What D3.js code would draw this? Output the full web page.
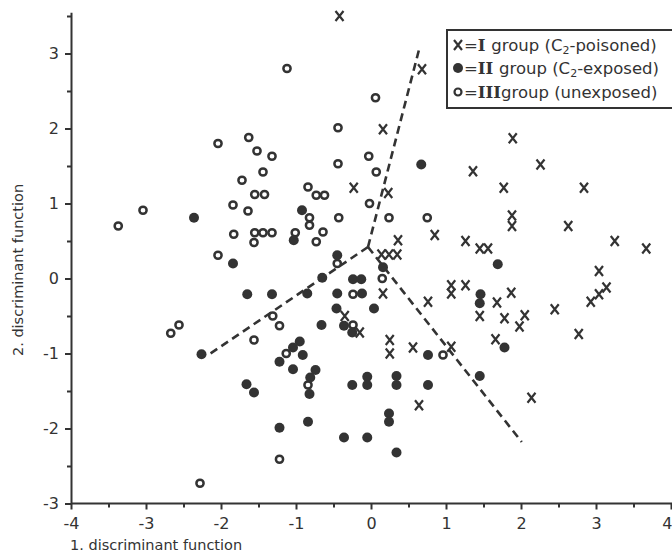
<!DOCTYPE html>
<html lang="en">
<head>
<meta charset="UTF-8">
<script src="https://d3js.org/d3.v7.min.js"></script>
<title>Discriminant functions</title>
<style>
  body { margin: 0; background: #fff; }
  svg text { font-family: "DejaVu Sans", sans-serif; fill: #333; }
  .axis path, .axis line { stroke: #333; stroke-width: 2; }
</style>
</head>
<body>
<div id="chart"></div>
<script>

// I group (x), C2-poisoned: [1. function, 2. function]
var groupI = [
  [-0.42, 3.50], [0.68, 2.79], [0.16, 1.99], [1.89, 1.87], [2.26, 1.52], [1.36, 1.43],
  [-0.23, 1.21], [0.23, 1.14], [1.77, 1.21], [2.84, 1.21], [1.88, 0.84], [1.88, 0.70],
  [2.63, 0.70], [0.85, 0.58], [0.36, 0.51], [1.26, 0.50], [1.45, 0.40], [1.56, 0.40],
  [3.25, 0.50], [3.67, 0.40], [0.14, 0.32], [0.24, 0.32], [0.35, 0.32], [3.04, 0.10],
  [1.07, -0.09], [1.07, -0.20], [1.26, -0.09], [0.16, -0.20], [1.87, -0.19], [0.76, -0.31],
  [1.68, -0.32], [3.14, -0.12], [3.04, -0.21], [2.93, -0.31], [2.45, -0.41], [1.45, -0.50],
  [1.78, -0.53], [2.05, -0.49], [1.98, -0.64], [2.77, -0.74], [-0.35, -0.50], [-0.15, -0.72],
  [0.25, -0.82], [0.25, -1.00], [0.56, -0.92], [1.07, -0.91], [1.66, -0.81], [0.64, -1.69],
  [2.14, -1.59]
];

// II group (filled), C2-exposed
var groupII = [
  [0.67, 1.52], [-2.36, 0.81], [-0.92, 0.91], [-1.84, 0.20], [-1.03, 0.51], [-0.45, 0.31],
  [0.16, 0.15], [-1.65, -0.21], [-1.32, -0.21], [-0.65, 0.01], [-0.24, -0.01], [-0.13, -0.01],
  [-0.85, -0.20], [-0.45, -0.20], [-0.12, -0.20], [1.69, 0.19], [1.46, -0.21], [1.45, -0.33],
  [-0.46, -0.40], [0.04, -0.40], [-0.66, -0.62], [-0.36, -0.63], [-0.25, -0.72], [1.78, -0.92],
  [-2.26, -1.01], [-0.95, -0.84], [-1.04, -0.92], [-0.91, -1.02], [-1.22, -1.11], [-1.04, -1.21],
  [-0.74, -1.22], [-0.81, -1.32], [-0.82, -1.54], [-1.66, -1.41], [-1.56, -1.52], [-0.25, -1.42],
  [-0.05, -1.31], [-0.05, -1.42], [0.34, -1.30], [0.34, -1.42], [0.76, -1.02], [0.76, -1.42],
  [1.45, -1.30], [0.24, -1.80], [0.24, -1.91], [-0.84, -1.91], [-1.22, -1.99], [-0.36, -2.12],
  [-0.05, -2.12], [0.34, -2.32]
];

// III group (open), unexposed
var groupIII = [
  [-1.12, 2.80], [0.06, 2.41], [-2.04, 1.80], [-1.63, 1.88], [-1.52, 1.70], [-1.32, 1.63],
  [-0.44, 2.01], [-0.03, 1.63], [-1.44, 1.42], [-0.44, 1.53], [0.07, 1.42], [-1.72, 1.31],
  [-0.84, 1.22], [-1.55, 1.12], [-1.42, 1.12], [-0.73, 1.11], [-0.62, 1.11], [-0.02, 1.00],
  [-3.04, 0.91], [-3.37, 0.70], [-1.84, 0.98], [-1.64, 0.90], [-0.82, 0.81], [-0.82, 0.71],
  [-0.43, 0.81], [0.24, 0.81], [0.75, 0.81], [-1.83, 0.59], [-1.55, 0.61], [-1.44, 0.61],
  [-1.32, 0.61], [-1.56, 0.48], [-1.01, 0.61], [-0.64, 0.62], [-0.73, 0.49], [-2.04, 0.31],
  [-0.45, 0.20], [0.15, 0.00], [-0.24, -0.21], [-1.31, -0.50], [-1.22, -0.63], [-2.56, -0.62],
  [-2.67, -0.73], [-1.56, -0.82], [-0.24, -0.62], [-1.13, -1.00], [-0.84, -1.42], [0.96, -1.02],
  [-1.22, -2.41], [-2.28, -2.73]
];

// dashed group boundaries: common point and the three arm ends
var boundaryCentre = [-0.04, 0.42];
var boundaryEnds = [[0.65, 3.09], [-2.17, -1.02], [2.01, -2.18]];

var xTicks = [-4, -3, -2, -1, 0, 1, 2, 3, 4];
var yTicks = [-3, -2, -1, 0, 1, 2, 3];
var legendRoman = ["I", "II", "III"];
var legendText = [["group (C", "2", "-poisoned)"], ["group (C", "2", "-exposed)"], ["group (unexposed)", "", ""]];

var ink = "#333";
var width = 672, height = 555;

var svg = d3.select("#chart").append("svg")
  .attr("width", width)
  .attr("height", height);

var x = d3.scaleLinear().domain([-4, 4]).range([71, 671]);
var y = d3.scaleLinear().domain([-3, 3.55]).range([503.5, 12.25]);

function isMajor(d) { return Math.abs(d - Math.round(d)) < 1e-6; }

// x axis, minor ticks every 0.5
var xAxis = svg.append("g")
  .attr("class", "axis")
  .attr("transform", "translate(0," + y(-3) + ")")
  .call(d3.axisBottom(x)
    .tickValues(d3.range(-4, 4.01, 0.5))
    .tickSizeOuter(0)
    .tickPadding(4)
    .tickFormat(function(d) { return isMajor(d) ? String(Math.round(d)) : ""; }));
xAxis.select(".domain").attr("d", "M" + x(-4) + ",0H" + width);
xAxis.selectAll(".tick line").attr("y2", function(d) { return isMajor(d) ? 6 : 4; });
xAxis.selectAll(".tick text").style("font-size", "16px").attr("dy", "0.95em");
// last label sits on the page edge, keep it inside
xAxis.selectAll(".tick text").filter(d => d === 4).attr("text-anchor", "end").attr("x", 1);

// y axis
var yAxis = svg.append("g")
  .attr("class", "axis")
  .attr("transform", "translate(" + x(-4) + ",0)")
  .call(d3.axisLeft(y)
    .tickValues(d3.range(-3, 3.51, 0.5))
    .tickSizeOuter(0)
    .tickPadding(6)
    .tickFormat(function(d) { return isMajor(d) ? String(Math.round(d)) : ""; }));
yAxis.selectAll(".tick line").attr("x2", function(d) { return isMajor(d) ? -6 : -4; });
yAxis.selectAll(".tick text").style("font-size", "16px");

// axis titles
svg.append("text")
  .attr("x", 70).attr("y", 550)
  .style("font-size", "14.5px")
  .text("1. discriminant function");

svg.append("text")
  .attr("transform", "translate(23,270) rotate(-90)")
  .attr("text-anchor", "middle")
  .style("font-size", "14.5px")
  .text("2. discriminant function");

// boundaries
svg.append("g").selectAll("line")
  .data(boundaryEnds)
  .enter().append("line")
  .attr("x1", x(boundaryCentre[0]))
  .attr("y1", y(boundaryCentre[1]))
  .attr("x2", d => x(d[0]))
  .attr("y2", d => y(d[1]))
  .attr("stroke", ink)
  .attr("stroke-width", 2.6)
  .attr("stroke-dasharray", "8,5");

function drawCross(g, cx, cy) {
  g.append("path")
    .attr("d", "M" + (cx - 4) + "," + (cy - 5) + "L" + (cx + 4) + "," + (cy + 5) +
               "M" + (cx + 4) + "," + (cy - 5) + "L" + (cx - 4) + "," + (cy + 5))
    .attr("stroke", ink)
    .attr("stroke-width", 2.2)
    .attr("fill", "none");
}

// points
var pts = svg.append("g");
groupIII.forEach(function(d) {
  pts.append("circle").attr("cx", x(d[0])).attr("cy", y(d[1])).attr("r", 3.6)
    .attr("fill", "#fff").attr("stroke", ink).attr("stroke-width", 2.5);
});
groupII.forEach(function(d) {
  pts.append("circle").attr("cx", x(d[0])).attr("cy", y(d[1])).attr("r", 5)
    .attr("fill", ink);
});
groupI.forEach(function(d) { drawCross(pts, x(d[0]), y(d[1])); });

// legend box (runs off the right edge)
var lg = svg.append("g");
lg.append("path")
  .attr("d", "M" + (width + 2) + ",30H447V108H" + (width + 2))
  .attr("fill", "#fff")
  .attr("stroke", ink)
  .attr("stroke-width", 2);

var rowY = [45, 68, 92];
drawCross(lg, 458, rowY[0]);
lg.append("circle").attr("cx", 458).attr("cy", rowY[1]).attr("r", 5).attr("fill", ink);
lg.append("circle").attr("cx", 458).attr("cy", rowY[2]).attr("r", 3.5)
  .attr("fill", "#fff").attr("stroke", ink).attr("stroke-width", 2.2);

legendRoman.forEach(function(r, i) {
  var t = lg.append("text")
    .attr("x", 464).attr("y", rowY[i] + 5.5)
    .style("font-size", "16.5px");
  t.append("tspan").text("=");
  t.append("tspan").style("font-family", "'DejaVu Serif', serif").style("font-weight", "bold")
    .text(r + (i < 2 ? " " : ""));
  t.append("tspan").text(legendText[i][0]);
  if (legendText[i][1]) {
    t.append("tspan").attr("dy", 3).style("font-size", "11px").text(legendText[i][1]);
    t.append("tspan").attr("dy", -3).text(legendText[i][2]);
  }
});

</script>
</body>
</html>
